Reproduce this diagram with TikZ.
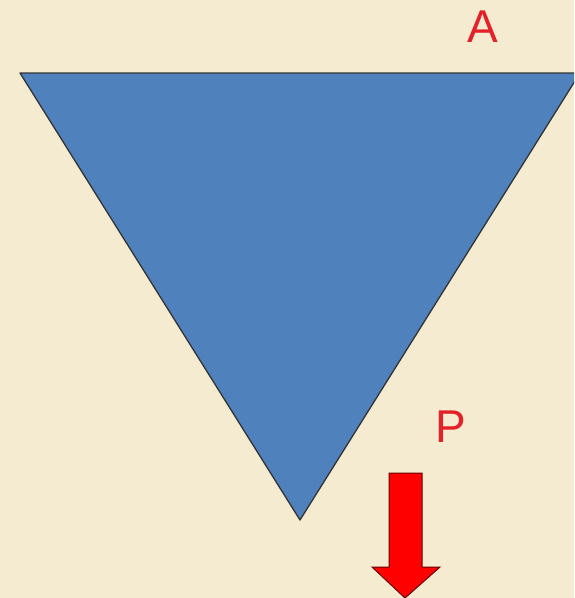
\documentclass[tikz,border=0pt]{standalone}
\usepackage{fontspec}
\setmainfont{Liberation Sans}
\usepackage{xcolor}
\usetikzlibrary{positioning}
\definecolor{paper}{RGB}{245,235,208}
\definecolor{wedgeblue}{RGB}{79,129,189}
\definecolor{labelred}{RGB}{228,32,40}
\definecolor{loadred}{RGB}{255,0,0}

\begin{document}
\begin{tikzpicture}[
    x=1pt, y=-1pt,
    letter/.style={text=labelred, font=\fontsize{46}{46}\selectfont, inner sep=0pt, anchor=center},
    wedge/.style={fill=wedgeblue, draw=black!80, line width=1.3pt, line join=round},
    load/.style={fill=loadred, draw=black!60!red, line width=1pt, line join=miter},
]

% Frame
\fill[paper] (0,0) rectangle (574,598);
\useasboundingbox (0,0) rectangle (574,598);
\clip (0,0) rectangle (574,598);

% Wedge
\coordinate (left) at (20,73);
\coordinate (right) at (580,73);
\coordinate (tip) at (300,520);
\draw[wedge] (left) -- (right) -- (tip) -- cycle;

% Labels
\node[letter] (A) at (483,27) {A};
\node[letter] (P) at (451,427) {P};

% Load arrow
\draw[load] (389,473) -- (422,473) -- (422,567) -- (440,567) -- (405,598)
    -- (372,567) -- (389,567) -- cycle;

\end{tikzpicture}
\end{document}
